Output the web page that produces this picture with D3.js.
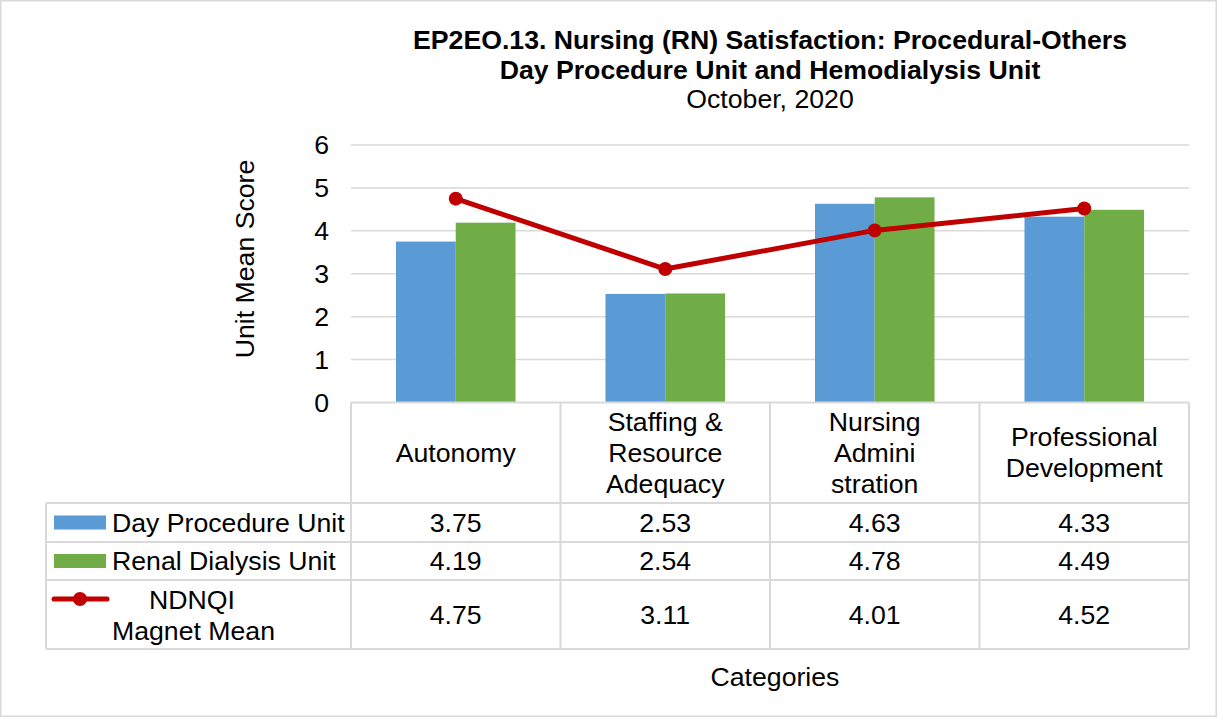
<html>
<head>
  <title>Nursing (RN) Satisfaction</title>
  <script src="https://d3js.org/d3.v7.min.js"></script>
  <style>
    body { margin: 0; background-color: white; }
    svg text { font-family: Arial, "Liberation Sans", sans-serif; fill: #000; }
  </style>
</head>
<body>
  <script>
    // chart data
    const titleLines = ["EP2EO.13. Nursing (RN) Satisfaction: Procedural-Others",
      "Day Procedure Unit and Hemodialysis Unit"];
    const subTitle = "October, 2020";
    const categories = ["Autonomy", "Staffing & Resource Adequacy", "Nursing Administration", "Professional Development"];
    const categoryLines = [["Autonomy"], ["Staffing &", "Resource", "Adequacy"], ["Nursing", "Admini", "stration"], ["Professional", "Development"]];
    const seriesNames = ["Day Procedure Unit", "Renal Dialysis Unit"];
    const dayProcedure = [3.75, 2.53, 4.63, 4.33];
    const renalDialysis = [4.19, 2.54, 4.78, 4.49];
    const ndnqiMean = [4.75, 3.11, 4.01, 4.52];
    const yTicks = [0, 1, 2, 3, 4, 5, 6];

    const width = 1217, height = 717;
    const plot = { left: 351, right: 1189, top: 145, bottom: 402.5 };
    const table = { left: 46, rows: [402.5, 503, 542, 580, 649] };
    const colors = { blue: "#5B9BD5", green: "#70AD47", red: "#C00000", grid: "#D9D9D9" };
    const fontSize = 26.67;

    const svg = d3.select("body").append("svg")
      .attr("width", width)
      .attr("height", height);

    // outer frame
    svg.append("rect")
      .attr("x", 0.75).attr("y", 0.75)
      .attr("width", width - 1.5).attr("height", height - 1.5)
      .attr("fill", "white")
      .attr("stroke", colors.grid)
      .attr("stroke-width", 1.5);

    const x0 = d3.scaleBand().domain(categories).range([plot.left, plot.right]);
    const bw = x0.bandwidth();
    const x1 = d3.scaleBand().domain(seriesNames).range([bw * 0.2147, bw * 0.7853]);
    const y = d3.scaleLinear().domain([0, 6]).range([plot.bottom, plot.top]);

    // title
    const title = svg.append("text")
      .attr("text-anchor", "middle")
      .attr("font-size", fontSize);
    titleLines.forEach((t, i) => {
      title.append("tspan")
        .attr("x", 770).attr("y", 49 + i * 30)
        .attr("font-weight", "bold")
        .text(t);
    });
    title.append("tspan")
      .attr("x", 770).attr("y", 108)
      .text(subTitle);

    // gridlines
    svg.append("g")
      .selectAll("line")
      .data(yTicks.filter(d => d > 0))
      .join("line")
      .attr("x1", plot.left).attr("x2", plot.right)
      .attr("y1", d => y(d)).attr("y2", d => y(d))
      .attr("stroke", colors.grid)
      .attr("stroke-width", 1.5);

    // y axis labels
    const yAxis = svg.append("g")
      .attr("transform", `translate(${plot.left}, 0)`)
      .call(d3.axisLeft(y).tickValues(yTicks).tickSize(0).tickPadding(22).tickFormat(d3.format("d")));
    yAxis.select(".domain").remove();
    yAxis.selectAll("text")
      .attr("font-size", fontSize)
      .attr("font-family", "Arial, 'Liberation Sans', sans-serif")
      .attr("fill", "#000");

    svg.append("text")
      .attr("transform", "translate(254, 259) rotate(-90)")
      .attr("text-anchor", "middle")
      .attr("font-size", fontSize)
      .text("Unit Mean Score");

    // bars
    const barData = categories.map((c, i) => [
      { cat: c, series: seriesNames[0], value: dayProcedure[i], color: colors.blue },
      { cat: c, series: seriesNames[1], value: renalDialysis[i], color: colors.green }
    ]).flat();

    svg.append("g")
      .selectAll("rect")
      .data(barData)
      .join("rect")
      .attr("x", d => x0(d.cat) + x1(d.series))
      .attr("y", d => y(d.value))
      .attr("width", x1.bandwidth())
      .attr("height", d => y(0) - y(d.value))
      .attr("fill", d => d.color);

    // table grid
    const tg = svg.append("g")
      .attr("stroke", colors.grid)
      .attr("stroke-width", 2)
      .attr("fill", "none");
    table.rows.forEach((ry, i) => {
      tg.append("line")
        .attr("x1", i === 0 ? plot.left : table.left).attr("x2", plot.right)
        .attr("y1", ry).attr("y2", ry);
    });
    tg.append("line")
      .attr("x1", table.left).attr("x2", table.left)
      .attr("y1", table.rows[1]).attr("y2", table.rows[4]);
    categories.concat([null]).forEach((c, i) => {
      const xx = c ? x0(c) : plot.right;
      tg.append("line")
        .attr("x1", xx).attr("x2", xx)
        .attr("y1", table.rows[0]).attr("y2", table.rows[4]);
    });

    // line series
    const line = d3.line()
      .x((d, i) => x0(categories[i]) + bw / 2)
      .y(d => y(d));
    svg.append("path")
      .datum(ndnqiMean)
      .attr("d", line)
      .attr("fill", "none")
      .attr("stroke", colors.red)
      .attr("stroke-width", 5)
      .attr("stroke-linejoin", "round");
    svg.append("g")
      .selectAll("circle")
      .data(ndnqiMean)
      .join("circle")
      .attr("cx", (d, i) => x0(categories[i]) + bw / 2)
      .attr("cy", d => y(d))
      .attr("r", 7)
      .attr("fill", colors.red);

    // category header cells
    const lineH = 31;
    categories.forEach((c, i) => {
      const lines = categoryLines[i];
      const cy = (table.rows[0] + table.rows[1]) / 2;
      const t = svg.append("text")
        .attr("text-anchor", "middle")
        .attr("font-size", fontSize);
      lines.forEach((l, j) => {
        t.append("tspan")
          .attr("x", x0(c) + bw / 2)
          .attr("y", cy + (j - (lines.length - 1) / 2) * lineH + 9)
          .text(l);
      });
    });

    // value rows
    const fmt = d3.format(".2f");
    const rowSeries = [dayProcedure, renalDialysis, ndnqiMean];
    rowSeries.forEach((vals, r) => {
      const cy = (table.rows[r + 1] + table.rows[r + 2]) / 2;
      svg.append("g")
        .selectAll("text")
        .data(vals)
        .join("text")
        .attr("x", (d, i) => x0(categories[i]) + bw / 2)
        .attr("y", cy + 9)
        .attr("text-anchor", "middle")
        .attr("font-size", fontSize)
        .text(d => fmt(d));
    });

    // legend keys in the table
    const legend = svg.append("g");
    [colors.blue, colors.green].forEach((col, r) => {
      const cy = (table.rows[r + 1] + table.rows[r + 2]) / 2;
      legend.append("rect")
        .attr("x", 54).attr("y", cy - 7)
        .attr("width", 52).attr("height", 14)
        .attr("fill", col);
      legend.append("text")
        .attr("x", 112).attr("y", cy + 9)
        .attr("font-size", fontSize)
        .text(seriesNames[r]);
    });
    legend.append("line")
      .attr("x1", 54).attr("x2", 107)
      .attr("y1", 599).attr("y2", 599)
      .attr("stroke", colors.red)
      .attr("stroke-width", 5)
      .attr("stroke-linecap", "round");
    legend.append("circle")
      .attr("cx", 80).attr("cy", 599).attr("r", 7)
      .attr("fill", colors.red);
    legend.append("text")
      .attr("x", 192).attr("y", 609)
      .attr("text-anchor", "middle")
      .attr("font-size", fontSize)
      .text("NDNQI");
    legend.append("text")
      .attr("x", 112).attr("y", 640)
      .attr("font-size", fontSize)
      .text("Magnet Mean");

    // x axis title
    svg.append("text")
      .attr("x", 775).attr("y", 686)
      .attr("text-anchor", "middle")
      .attr("font-size", fontSize)
      .text("Categories");
  </script>
</body>
</html>
